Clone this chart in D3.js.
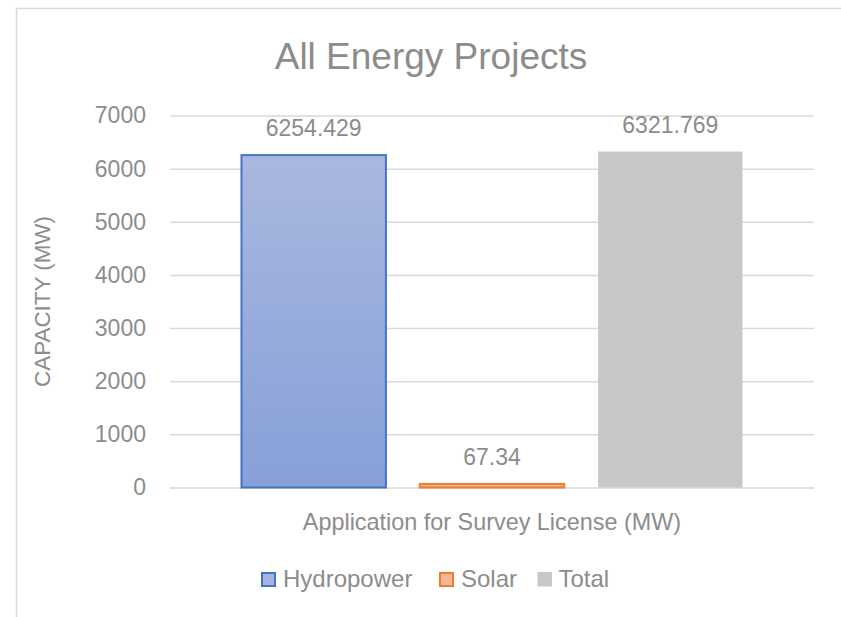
<!DOCTYPE html>
<html>
<head>
<meta charset="utf-8">
<script src="https://cdn.jsdelivr.net/npm/d3@7"></script>
<style>
  body { margin: 0; background: #fff; overflow: hidden; }
  text { font-family: "Liberation Sans", Arial, sans-serif; fill: #8c8c8c; }
</style>
</head>
<body>
<svg id="chart"></svg>
<script>
(function () {
    "use strict";

    var categories = ["Application for Survey License (MW)"];
    var seriesNames = ["Hydropower", "Solar", "Total"];
    var seriesValues = [6254.429, 67.34, 6321.769];
    var valueLabels = ["6254.429", "67.34", "6321.769"];
    var yTicks = [0, 1000, 2000, 3000, 4000, 5000, 6000, 7000];

    var dim = { width: 841, height: 617 };
    var margin = { left: 170, right: 27, top: 115.5, bottom: 129.5 };
    var w = dim.width - margin.left - margin.right;
    var h = dim.height - margin.top - margin.bottom;

    var fills = { Hydropower: "url(#gradHydro)", Solar: "url(#gradSolar)", Total: "#c7c8ca" };
    var strokes = { Hydropower: "#4472c4", Solar: "#ed7d31", Total: "none" };
    var legendFills = { Hydropower: "#a3b4e0", Solar: "#f6b596", Total: "#c7c8ca" };

    var svg = d3.select("#chart")
        .attr("width", dim.width)
        .attr("height", dim.height);

    var defs = svg.append("defs");
    var g1 = defs.append("linearGradient").attr("id", "gradHydro")
        .attr("x1", 0).attr("y1", 0).attr("x2", 0).attr("y2", 1);
    g1.append("stop").attr("offset", "0%").attr("stop-color", "#a9b8df");
    g1.append("stop").attr("offset", "100%").attr("stop-color", "#87a0d8");
    var g2 = defs.append("linearGradient").attr("id", "gradSolar")
        .attr("x1", 0).attr("y1", 0).attr("x2", 0).attr("y2", 1);
    g2.append("stop").attr("offset", "0%").attr("stop-color", "#f7c0a4");
    g2.append("stop").attr("offset", "100%").attr("stop-color", "#f4a77f");

    // chart area border (runs off the right and bottom edges)
    svg.append("rect")
        .attr("x", 16.5).attr("y", 8.5)
        .attr("width", 900).attr("height", 700)
        .attr("fill", "#fff")
        .attr("stroke", "#d9d9d9")
        .attr("stroke-width", 1.5);

    svg.append("text")
        .attr("x", 431).attr("y", 69)
        .attr("text-anchor", "middle")
        .style("font-size", "37px")
        .text("All Energy Projects");

    var chart = svg.append("g")
        .attr("transform", "translate(" + margin.left + "," + margin.top + ")");

    var y = d3.scaleLinear().domain([0, 7000]).range([h, 0]);
    var x0 = d3.scaleBand().domain(categories).range([0, w]).paddingInner(0).paddingOuter(0.1427);
    var x1 = d3.scaleBand().domain(seriesNames).range([0, x0.bandwidth()]).paddingInner(0.19).paddingOuter(0);

    var yaxis = d3.axisLeft(y).tickValues(yTicks).tickFormat(d3.format("d")).tickSize(-w).tickPadding(24);
    var ya = chart.append("g").attr("class", "y axis").call(yaxis);
    ya.select(".domain").remove();
    ya.selectAll(".tick line").attr("stroke", "#d9d9d9").attr("stroke-width", 1.5);
    ya.selectAll(".tick text")
        .style("font-size", "23px")
        .style("font-family", "\"Liberation Sans\", Arial, sans-serif")
        .attr("fill", "#8c8c8c");

    var groups = chart.selectAll("g.cat").data(categories).enter().append("g")
        .attr("class", "cat")
        .attr("transform", function (d) { return "translate(" + x0(d) + ",0)"; });

    var bars = groups.selectAll("g.bar").data(seriesNames).enter().append("g").attr("class", "bar");
    bars.append("rect")
        .attr("x", function (d) { return x1(d); })
        .attr("y", function (d, i) { return y(seriesValues[i]); })
        .attr("width", x1.bandwidth())
        .attr("height", function (d, i) { return h - y(seriesValues[i]); })
        .attr("fill", function (d) { return fills[d]; })
        .attr("stroke", function (d) { return strokes[d]; })
        .attr("stroke-width", 2);
    bars.append("text")
        .attr("x", function (d) { return x1(d) + x1.bandwidth() / 2; })
        .attr("y", function (d, i) { return y(seriesValues[i]); })
        .attr("dy", "-19px")
        .attr("text-anchor", "middle")
        .style("font-size", "23px")
        .text(function (d, i) { return valueLabels[i]; });

    // category label
    chart.selectAll("text.cat-label").data(categories).enter().append("text")
        .attr("class", "cat-label")
        .attr("x", function (d) { return x0(d) + x0.bandwidth() / 2; })
        .attr("y", h + 42)
        .attr("text-anchor", "middle")
        .style("font-size", "23.4px")
        .text(function (d) { return d; });

    // y axis title
    svg.append("text")
        .attr("transform", "translate(50," + (margin.top + h / 2) + ") rotate(-90)")
        .attr("text-anchor", "middle")
        .style("font-size", "22.4px")
        .text("CAPACITY (MW)");

    // legend
    var legendX = [261, 439, 537.5];
    var leg = svg.selectAll("g.legend").data(seriesNames).enter().append("g")
        .attr("class", "legend")
        .attr("transform", function (d, i) { return "translate(" + legendX[i] + ",572)"; });
    leg.append("rect")
        .attr("x", function (d) { return strokes[d] === "none" ? 0 : 1; })
        .attr("y", function (d) { return strokes[d] === "none" ? 0 : 1; })
        .attr("width", function (d) { return strokes[d] === "none" ? 14.5 : 13; })
        .attr("height", function (d) { return strokes[d] === "none" ? 14.5 : 13; })
        .attr("fill", function (d) { return legendFills[d]; })
        .attr("stroke", function (d) { return strokes[d]; })
        .attr("stroke-width", 2);
    leg.append("text")
        .attr("x", function (d) { return strokes[d] === "none" ? 21 : 22; })
        .attr("y", 15)
        .style("font-size", "24px")
        .text(function (d) { return d; });
})();
</script>
</body>
</html>
